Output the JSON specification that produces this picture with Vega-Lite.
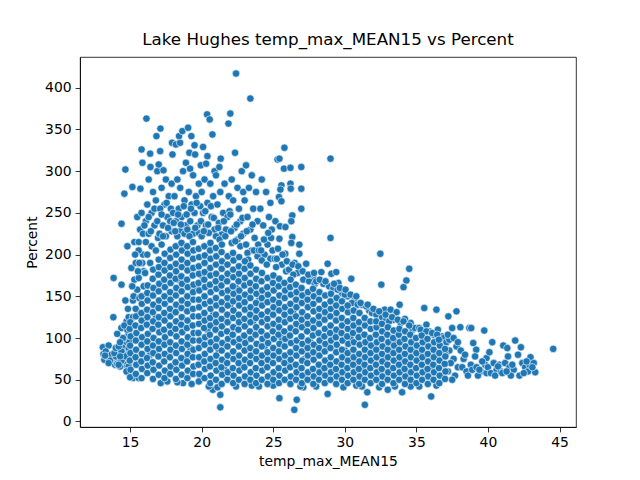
{
  "$schema": "https://vega.github.io/schema/vega-lite/v6.json",
  "width": 496,
  "height": 370,
  "autosize": {"type": "none"},
  "padding": {"left": 80, "top": 57, "right": 64, "bottom": 53},
  "title": {
    "text": "Lake Hughes temp_max_MEAN15 vs Percent",
    "font": "DejaVu Sans",
    "fontSize": 16.7,
    "fontWeight": "normal",
    "color": "black",
    "offset": 8
  },
  "data": {
    "values": [
      {"temp":13.1,"pct":89},{"temp":13.5,"pct":91},{"temp":13.14,"pct":81},{"temp":13.2,"pct":74},{"temp":13.4,"pct":78},{"temp":13.6,"pct":76},{"temp":13.8,"pct":72},{"temp":13.3,"pct":84},{"temp":13.9,"pct":70},{"temp":13.7,"pct":80},{"temp":13.85,"pct":172},{"temp":13.83,"pct":125},{"temp":13.95,"pct":68},{"temp":13.6,"pct":73},{"temp":13.25,"pct":79},
      {"temp":14.4,"pct":164},{"temp":14.67,"pct":145},{"temp":14.39,"pct":112},{"temp":14.67,"pct":100},{"temp":14.81,"pct":210},{"temp":14.4,"pct":237},{"temp":14.6,"pct":273},{"temp":14.67,"pct":302},{"temp":14.1,"pct":75},{"temp":14.3,"pct":70},{"temp":14.5,"pct":68},{"temp":14.7,"pct":72},{"temp":14.2,"pct":82},{"temp":14.9,"pct":66},{"temp":14.5,"pct":78},{"temp":14.8,"pct":85},{"temp":14.6,"pct":92},{"temp":14.3,"pct":66},{"temp":14.9,"pct":75},{"temp":14.1,"pct":69},{"temp":14.75,"pct":120},{"temp":14.9,"pct":105},{"temp":14.5,"pct":88},{"temp":14.2,"pct":76},{"temp":14.95,"pct":95},{"temp":14.85,"pct":135},{"temp":14.6,"pct":80},{"temp":14.4,"pct":73},{"temp":14.0,"pct":78},
      {"temp":13.5,"pct":70},{"temp":13.9,"pct":82},{"temp":14.0,"pct":88},{"temp":14.2,"pct":68},{"temp":14.4,"pct":84},{"temp":14.7,"pct":78},{"temp":14.9,"pct":88},{"temp":14.3,"pct":78},{"temp":14.2,"pct":90},{"temp":14.5,"pct":100},{"temp":14.8,"pct":110},{"temp":14.3,"pct":95},{"temp":14.6,"pct":115},{"temp":14.1,"pct":105},{"temp":14.9,"pct":125},{"temp":14.75,"pct":60},
      {"temp":15.09,"pct":184},{"temp":15.16,"pct":281},{"temp":15.72,"pct":279},{"temp":15.8,"pct":326},{"temp":15.86,"pct":310},{"temp":15.3,"pct":170},{"temp":15.5,"pct":158},{"temp":15.2,"pct":145},{"temp":15.6,"pct":172},{"temp":15.9,"pct":200},{"temp":15.4,"pct":190},{"temp":15.7,"pct":230},{"temp":15.5,"pct":245},{"temp":15.3,"pct":215},{"temp":15.8,"pct":250},{"temp":15.95,"pct":180},{"temp":15.6,"pct":205},
      {"temp":15.2,"pct":125},{"temp":15.6,"pct":130},{"temp":15.25,"pct":150},{"temp":15.65,"pct":148},{"temp":15.95,"pct":162},{"temp":15.15,"pct":162},{"temp":15.55,"pct":180},{"temp":15.85,"pct":190},{"temp":15.35,"pct":200},{"temp":15.65,"pct":190},{"temp":15.2,"pct":52},{"temp":15.6,"pct":52},{"temp":15.6,"pct":215},{"temp":15.9,"pct":225},
      {"temp":16.14,"pct":363},{"temp":16.4,"pct":321},{"temp":16.42,"pct":305},{"temp":16.84,"pct":342},{"temp":16.3,"pct":290},{"temp":16.6,"pct":275},{"temp":16.9,"pct":300},{"temp":16.2,"pct":260},{"temp":16.5,"pct":250},{"temp":16.8,"pct":265},{"temp":16.1,"pct":240},{"temp":16.7,"pct":235},{"temp":16.3,"pct":225},{"temp":16.95,"pct":220},{"temp":16.5,"pct":210},{"temp":16.2,"pct":200},{"temp":16.8,"pct":205},{"temp":16.4,"pct":190},{"temp":16.05,"pct":178},
      {"temp":16.0,"pct":235},{"temp":16.3,"pct":245},{"temp":16.7,"pct":255},{"temp":16.1,"pct":215},{"temp":16.45,"pct":228},{"temp":16.9,"pct":240},
      {"temp":17.12,"pct":351},{"temp":17.0,"pct":308},{"temp":17.1,"pct":324},{"temp":17.33,"pct":301},{"temp":17.93,"pct":334},{"temp":17.96,"pct":320},{"temp":17.5,"pct":290},{"temp":17.2,"pct":280},{"temp":17.7,"pct":270},{"temp":17.4,"pct":260},{"temp":17.9,"pct":285},{"temp":17.1,"pct":255},{"temp":17.6,"pct":245},{"temp":17.3,"pct":235},{"temp":17.8,"pct":240},{"temp":17.05,"pct":225},{"temp":17.5,"pct":222},{"temp":17.9,"pct":228},{"temp":17.2,"pct":212},{"temp":17.14,"pct":46},
      {"temp":17.2,"pct":248},{"temp":17.55,"pct":262},{"temp":17.85,"pct":255},{"temp":17.3,"pct":222},{"temp":17.65,"pct":232},
      {"temp":18.2,"pct":332},{"temp":18.49,"pct":334},{"temp":18.42,"pct":342},{"temp":18.65,"pct":348},{"temp":18.7,"pct":300},{"temp":18.3,"pct":290},{"temp":18.9,"pct":310},{"temp":18.5,"pct":280},{"temp":18.1,"pct":270},{"temp":18.8,"pct":265},{"temp":18.4,"pct":255},{"temp":18.6,"pct":245},{"temp":18.2,"pct":240},{"temp":18.9,"pct":235},{"temp":18.0,"pct":250},{"temp":18.5,"pct":228},{"temp":18.3,"pct":222},{"temp":18.8,"pct":225},{"temp":18.7,"pct":46},
      {"temp":18.05,"pct":238},{"temp":18.35,"pct":248},{"temp":18.75,"pct":258},{"temp":18.15,"pct":228},{"temp":18.55,"pct":236},{"temp":18.95,"pct":248},
      {"temp":19.05,"pct":352},{"temp":19.28,"pct":342},{"temp":19.5,"pct":331},{"temp":19.14,"pct":322},{"temp":19.54,"pct":320},{"temp":19.19,"pct":303},{"temp":19.94,"pct":307},{"temp":19.4,"pct":295},{"temp":19.8,"pct":285},{"temp":19.1,"pct":275},{"temp":19.6,"pct":270},{"temp":19.3,"pct":260},{"temp":19.9,"pct":258},{"temp":19.5,"pct":250},{"temp":19.2,"pct":240},{"temp":19.7,"pct":235},{"temp":19.0,"pct":230},{"temp":19.4,"pct":225},{"temp":19.8,"pct":226},{"temp":19.9,"pct":50},
      {"temp":19.25,"pct":255},{"temp":19.65,"pct":262},{"temp":19.15,"pct":222},{"temp":19.55,"pct":232},{"temp":19.95,"pct":240},
      {"temp":20.1,"pct":329},{"temp":20.38,"pct":368},{"temp":20.56,"pct":362},{"temp":20.75,"pct":344},{"temp":20.4,"pct":318},{"temp":20.31,"pct":309},{"temp":20.9,"pct":300},{"temp":20.2,"pct":290},{"temp":20.6,"pct":285},{"temp":20.0,"pct":275},{"temp":20.8,"pct":270},{"temp":20.4,"pct":262},{"temp":20.1,"pct":250},{"temp":20.7,"pct":245},{"temp":20.3,"pct":235},{"temp":20.9,"pct":230},{"temp":20.5,"pct":226},{"temp":20.0,"pct":222},{"temp":20.78,"pct":38},{"temp":20.5,"pct":42},
      {"temp":20.25,"pct":252},{"temp":20.65,"pct":258},{"temp":20.45,"pct":236},{"temp":20.85,"pct":244},{"temp":20.15,"pct":228},
      {"temp":21.87,"pct":357},{"temp":21.33,"pct":315},{"temp":21.24,"pct":305},{"temp":21.0,"pct":295},{"temp":21.6,"pct":285},{"temp":21.3,"pct":275},{"temp":21.9,"pct":270},{"temp":21.1,"pct":260},{"temp":21.5,"pct":250},{"temp":21.8,"pct":245},{"temp":21.2,"pct":238},{"temp":21.7,"pct":230},{"temp":21.4,"pct":224},{"temp":21.0,"pct":222},{"temp":21.3,"pct":32},{"temp":21.3,"pct":17},{"temp":21.1,"pct":41},
      {"temp":21.15,"pct":232},{"temp":21.55,"pct":240},{"temp":21.95,"pct":252},{"temp":21.25,"pct":218},{"temp":21.65,"pct":222},
      {"temp":22.0,"pct":369},{"temp":22.4,"pct":417},{"temp":22.33,"pct":322},{"temp":22.8,"pct":300},{"temp":22.1,"pct":290},{"temp":22.5,"pct":280},{"temp":22.9,"pct":275},{"temp":22.2,"pct":265},{"temp":22.6,"pct":255},{"temp":22.0,"pct":248},{"temp":22.7,"pct":240},{"temp":22.3,"pct":232},{"temp":22.9,"pct":225},{"temp":22.5,"pct":218},{"temp":22.1,"pct":214},{"temp":22.7,"pct":210},
      {"temp":22.05,"pct":228},{"temp":22.45,"pct":236},{"temp":22.85,"pct":244},{"temp":22.35,"pct":216},{"temp":22.75,"pct":222},
      {"temp":23.4,"pct":387},{"temp":23.1,"pct":307},{"temp":23.5,"pct":295},{"temp":23.3,"pct":280},{"temp":23.8,"pct":275},{"temp":23.0,"pct":265},{"temp":23.6,"pct":255},{"temp":23.2,"pct":245},{"temp":23.9,"pct":240},{"temp":23.4,"pct":230},{"temp":23.7,"pct":220},{"temp":23.1,"pct":212},{"temp":23.5,"pct":205},{"temp":23.9,"pct":198},{"temp":23.2,"pct":202},
      {"temp":23.15,"pct":228},{"temp":23.55,"pct":236},{"temp":23.25,"pct":194},{"temp":23.65,"pct":205},{"temp":23.95,"pct":212},
      {"temp":24.85,"pct":220},{"temp":24.8,"pct":262},{"temp":24.2,"pct":290},{"temp":24.5,"pct":275},{"temp":24.1,"pct":255},{"temp":24.7,"pct":245},{"temp":24.3,"pct":235},{"temp":24.9,"pct":230},{"temp":24.6,"pct":212},{"temp":24.0,"pct":205},{"temp":24.4,"pct":200},{"temp":24.8,"pct":195},{"temp":24.2,"pct":193},
      {"temp":24.35,"pct":218},{"temp":24.65,"pct":226},{"temp":24.15,"pct":205},{"temp":24.55,"pct":188},{"temp":24.95,"pct":205},
      {"temp":25.3,"pct":314},{"temp":25.78,"pct":328},{"temp":25.43,"pct":315},{"temp":25.75,"pct":303},{"temp":25.57,"pct":283},{"temp":25.5,"pct":278},{"temp":25.4,"pct":269},{"temp":25.57,"pct":264},{"temp":25.15,"pct":240},{"temp":25.47,"pct":234},{"temp":25.85,"pct":233},{"temp":25.43,"pct":219},{"temp":25.33,"pct":207},{"temp":25.84,"pct":201},{"temp":25.1,"pct":195},{"temp":25.6,"pct":188},{"temp":25.2,"pct":185},{"temp":25.9,"pct":180},{"temp":25.43,"pct":28},
      {"temp":25.25,"pct":195},{"temp":25.65,"pct":200},{"temp":25.95,"pct":192},
      {"temp":26.2,"pct":304},{"temp":26.96,"pct":305},{"temp":26.2,"pct":285},{"temp":26.22,"pct":279},{"temp":26.96,"pct":279},{"temp":26.96,"pct":255},{"temp":26.33,"pct":247},{"temp":26.26,"pct":240},{"temp":26.33,"pct":221},{"temp":26.26,"pct":214},{"temp":26.82,"pct":212},{"temp":26.82,"pct":201},{"temp":26.5,"pct":190},{"temp":26.1,"pct":182},{"temp":26.7,"pct":178},{"temp":26.4,"pct":176},{"temp":26.47,"pct":14},{"temp":26.64,"pct":26},
      {"temp":26.35,"pct":188},{"temp":26.75,"pct":186},
      {"temp":27.3,"pct":189},{"temp":27.8,"pct":172},{"temp":27.1,"pct":170},{"temp":27.5,"pct":168},{"temp":27.9,"pct":165},{"temp":27.6,"pct":176},
      {"temp":27.05,"pct":180},{"temp":27.45,"pct":176},{"temp":27.85,"pct":178},
      {"temp":28.8,"pct":189},{"temp":28.36,"pct":179},{"temp":28.0,"pct":168},{"temp":28.5,"pct":165},{"temp":28.9,"pct":162},{"temp":28.8,"pct":33},
      {"temp":28.25,"pct":170},{"temp":28.65,"pct":168},
      {"temp":29.0,"pct":315},{"temp":29.0,"pct":220},{"temp":29.06,"pct":177},{"temp":29.4,"pct":179},{"temp":29.55,"pct":166},{"temp":29.2,"pct":160},{"temp":29.8,"pct":154},{"temp":29.5,"pct":158},
      {"temp":29.25,"pct":165},{"temp":29.65,"pct":160},
      {"temp":30.45,"pct":171},{"temp":30.2,"pct":150},{"temp":30.7,"pct":146},{"temp":30.0,"pct":152},{"temp":30.5,"pct":142},{"temp":30.9,"pct":140},
      {"temp":30.05,"pct":158},{"temp":30.4,"pct":152},{"temp":30.8,"pct":150},
      {"temp":31.4,"pct":20},{"temp":31.57,"pct":35},{"temp":31.2,"pct":140},{"temp":31.7,"pct":133},{"temp":31.5,"pct":138},{"temp":31.9,"pct":130},
      {"temp":31.1,"pct":142},{"temp":31.6,"pct":140},
      {"temp":32.48,"pct":201},{"temp":32.55,"pct":164},{"temp":32.78,"pct":134},{"temp":32.2,"pct":128},{"temp":32.6,"pct":125},{"temp":32.9,"pct":122},{"temp":33.0,"pct":38},
      {"temp":32.0,"pct":135},{"temp":32.4,"pct":132},{"temp":32.85,"pct":128},
      {"temp":33.2,"pct":134},{"temp":33.62,"pct":131},{"temp":33.83,"pct":140},{"temp":33.4,"pct":122},{"temp":33.9,"pct":118},{"temp":33.1,"pct":120},
      {"temp":33.3,"pct":125},{"temp":33.7,"pct":122},
      {"temp":34.5,"pct":183},{"temp":34.3,"pct":169},{"temp":34.1,"pct":161},{"temp":34.2,"pct":123},{"temp":34.74,"pct":110},{"temp":34.6,"pct":118},{"temp":34.9,"pct":112},{"temp":34.0,"pct":35},
      {"temp":34.1,"pct":120},{"temp":34.5,"pct":115},
      {"temp":35.55,"pct":136},{"temp":35.7,"pct":116},{"temp":35.2,"pct":112},{"temp":35.9,"pct":108},
      {"temp":35.3,"pct":110},{"temp":35.7,"pct":108},
      {"temp":36.4,"pct":134},{"temp":36.2,"pct":104},{"temp":36.03,"pct":30},{"temp":36.5,"pct":110},{"temp":36.8,"pct":102},
      {"temp":36.1,"pct":106},{"temp":36.45,"pct":104},{"temp":36.9,"pct":100},
      {"temp":37.8,"pct":132},{"temp":37.23,"pct":126},{"temp":37.5,"pct":112},{"temp":37.1,"pct":95},{"temp":37.3,"pct":85},{"temp":37.6,"pct":75},{"temp":37.9,"pct":65},{"temp":37.2,"pct":60},{"temp":37.7,"pct":55},{"temp":37.4,"pct":70},{"temp":37.05,"pct":80},{"temp":37.8,"pct":90},{"temp":37.5,"pct":50},{"temp":37.3,"pct":98},
      {"temp":37.2,"pct":104},{"temp":37.6,"pct":100},{"temp":37.9,"pct":95},
      {"temp":38.07,"pct":113},{"temp":38.7,"pct":112},{"temp":38.83,"pct":112},{"temp":38.97,"pct":94},{"temp":39.18,"pct":86},{"temp":38.2,"pct":65},{"temp":38.5,"pct":60},{"temp":38.8,"pct":68},{"temp":38.3,"pct":75},{"temp":38.6,"pct":55},{"temp":38.9,"pct":62},{"temp":38.1,"pct":85},{"temp":38.4,"pct":80},
      {"temp":39.74,"pct":109},{"temp":39.9,"pct":76},{"temp":39.2,"pct":65},{"temp":39.5,"pct":60},{"temp":39.8,"pct":68},{"temp":39.3,"pct":55},{"temp":39.6,"pct":72},{"temp":39.1,"pct":78},{"temp":39.4,"pct":62},{"temp":39.9,"pct":58},
      {"temp":40.3,"pct":95},{"temp":40.1,"pct":83},{"temp":40.0,"pct":65},{"temp":40.2,"pct":58},{"temp":40.4,"pct":70},{"temp":40.6,"pct":62},{"temp":40.8,"pct":68},{"temp":40.5,"pct":55},{"temp":40.9,"pct":60},{"temp":40.7,"pct":66},
      {"temp":41.9,"pct":97},{"temp":41.07,"pct":91},{"temp":41.35,"pct":88},{"temp":41.2,"pct":70},{"temp":41.5,"pct":65},{"temp":41.8,"pct":62},{"temp":41.0,"pct":58},{"temp":41.6,"pct":55},{"temp":41.3,"pct":60},{"temp":41.7,"pct":68},{"temp":41.4,"pct":78},
      {"temp":42.3,"pct":89},{"temp":42.97,"pct":77},{"temp":42.1,"pct":80},{"temp":42.4,"pct":70},{"temp":42.6,"pct":65},{"temp":42.8,"pct":60},{"temp":42.2,"pct":55},{"temp":42.5,"pct":58},{"temp":42.9,"pct":68},{"temp":42.7,"pct":72},
      {"temp":43.2,"pct":70},{"temp":43.3,"pct":59},{"temp":43.1,"pct":65},{"temp":44.56,"pct":87},
      {"temp":16.4,"pct":80},{"temp":17.2,"pct":95},{"temp":18.0,"pct":130},{"temp":18.8,"pct":75},{"temp":19.6,"pct":160},{"temp":20.4,"pct":110},{"temp":21.2,"pct":85},{"temp":22.0,"pct":140},{"temp":22.8,"pct":65},{"temp":23.6,"pct":120},{"temp":24.4,"pct":90},{"temp":25.2,"pct":135},{"temp":26.0,"pct":70},{"temp":26.8,"pct":115},{"temp":27.6,"pct":95},{"temp":28.4,"pct":60},{"temp":29.2,"pct":105},{"temp":30.0,"pct":85},{"temp":30.8,"pct":70},{"temp":31.6,"pct":95},{"temp":32.4,"pct":60},{"temp":33.2,"pct":85},{"temp":34.0,"pct":70},{"temp":34.8,"pct":90},{"temp":35.6,"pct":60},{"temp":36.4,"pct":80},
      {"temp":16.8,"pct":125},{"temp":17.6,"pct":58},{"temp":18.4,"pct":170},{"temp":19.2,"pct":88},{"temp":20.0,"pct":175},{"temp":20.8,"pct":128},{"temp":21.6,"pct":62},{"temp":22.4,"pct":160},{"temp":23.2,"pct":98},{"temp":24.0,"pct":145},{"temp":24.8,"pct":55},{"temp":25.6,"pct":100},{"temp":26.4,"pct":130},{"temp":27.2,"pct":75},{"temp":28.0,"pct":120},{"temp":28.8,"pct":90},{"temp":29.6,"pct":55},{"temp":30.4,"pct":100},{"temp":31.2,"pct":65},{"temp":32.0,"pct":90},{"temp":32.8,"pct":75},{"temp":33.6,"pct":95},{"temp":34.4,"pct":55},{"temp":35.2,"pct":80},{"temp":36.0,"pct":65},{"temp":36.8,"pct":55},
      {"temp":17.6,"pct":48},{"temp":19.3,"pct":45},{"temp":22.4,"pct":42},{"temp":24.0,"pct":42},{"temp":25.0,"pct":43},{"temp":27.1,"pct":41},{"temp":28.0,"pct":42},{"temp":29.9,"pct":41},{"temp":30.8,"pct":43},{"temp":32.4,"pct":41},{"temp":33.5,"pct":42},{"temp":35.2,"pct":42},{"temp":36.4,"pct":43},{"temp":18.3,"pct":47},{"temp":23.5,"pct":43},{"temp":26.9,"pct":42},{"temp":31.2,"pct":42},{"temp":34.6,"pct":42},
      {"temp":15.0,"pct":53},{"temp":15.03,"pct":62},{"temp":14.98,"pct":73},{"temp":15.02,"pct":82},{"temp":15.0,"pct":91},{"temp":15.04,"pct":102},{"temp":14.97,"pct":111},{"temp":15.01,"pct":119},
      {"temp":15.4,"pct":57},{"temp":15.43,"pct":68},{"temp":15.38,"pct":77},{"temp":15.42,"pct":86},{"temp":15.4,"pct":97},{"temp":15.44,"pct":106},{"temp":15.37,"pct":115},{"temp":15.41,"pct":126},{"temp":15.39,"pct":135},
      {"temp":15.8,"pct":52},{"temp":15.83,"pct":63},{"temp":15.78,"pct":72},{"temp":15.82,"pct":81},{"temp":15.8,"pct":92},{"temp":15.84,"pct":101},{"temp":15.77,"pct":112},{"temp":15.81,"pct":121},{"temp":15.79,"pct":130},{"temp":15.82,"pct":141},{"temp":15.8,"pct":150},
      {"temp":16.2,"pct":58},{"temp":16.23,"pct":67},{"temp":16.18,"pct":76},{"temp":16.22,"pct":87},{"temp":16.2,"pct":96},{"temp":16.24,"pct":105},{"temp":16.17,"pct":116},{"temp":16.21,"pct":125},{"temp":16.19,"pct":134},{"temp":16.22,"pct":145},{"temp":16.2,"pct":154},{"temp":16.23,"pct":163},
      {"temp":16.6,"pct":51},{"temp":16.63,"pct":62},{"temp":16.58,"pct":71},{"temp":16.62,"pct":82},{"temp":16.6,"pct":91},{"temp":16.64,"pct":100},{"temp":16.57,"pct":111},{"temp":16.61,"pct":120},{"temp":16.59,"pct":131},{"temp":16.62,"pct":140},{"temp":16.6,"pct":151},{"temp":16.63,"pct":160},{"temp":16.58,"pct":171},{"temp":16.61,"pct":182},
      {"temp":17.0,"pct":56},{"temp":17.03,"pct":67},{"temp":16.98,"pct":78},{"temp":17.02,"pct":87},{"temp":17.0,"pct":96},{"temp":17.04,"pct":107},{"temp":16.97,"pct":116},{"temp":17.01,"pct":125},{"temp":16.99,"pct":136},{"temp":17.02,"pct":145},{"temp":17.0,"pct":156},{"temp":17.03,"pct":165},{"temp":16.98,"pct":176},{"temp":17.01,"pct":185},{"temp":17.0,"pct":194},
      {"temp":17.4,"pct":52},{"temp":17.43,"pct":61},{"temp":17.38,"pct":72},{"temp":17.42,"pct":81},{"temp":17.4,"pct":92},{"temp":17.44,"pct":101},{"temp":17.37,"pct":110},{"temp":17.41,"pct":121},{"temp":17.39,"pct":130},{"temp":17.42,"pct":141},{"temp":17.4,"pct":150},{"temp":17.43,"pct":161},{"temp":17.38,"pct":170},{"temp":17.41,"pct":181},{"temp":17.4,"pct":190},{"temp":17.42,"pct":201},
      {"temp":17.8,"pct":57},{"temp":17.83,"pct":66},{"temp":17.78,"pct":77},{"temp":17.82,"pct":86},{"temp":17.8,"pct":95},{"temp":17.84,"pct":106},{"temp":17.77,"pct":115},{"temp":17.81,"pct":126},{"temp":17.79,"pct":135},{"temp":17.82,"pct":146},{"temp":17.8,"pct":155},{"temp":17.83,"pct":166},{"temp":17.78,"pct":175},{"temp":17.81,"pct":185},{"temp":17.8,"pct":196},{"temp":17.82,"pct":206},
      {"temp":18.2,"pct":51},{"temp":18.23,"pct":62},{"temp":18.18,"pct":71},{"temp":18.22,"pct":82},{"temp":18.2,"pct":91},{"temp":18.24,"pct":102},{"temp":18.17,"pct":111},{"temp":18.21,"pct":120},{"temp":18.19,"pct":131},{"temp":18.22,"pct":140},{"temp":18.2,"pct":151},{"temp":18.23,"pct":160},{"temp":18.18,"pct":171},{"temp":18.21,"pct":180},{"temp":18.2,"pct":189},{"temp":18.22,"pct":200},{"temp":18.19,"pct":210},
      {"temp":18.6,"pct":56},{"temp":18.63,"pct":67},{"temp":18.58,"pct":76},{"temp":18.62,"pct":87},{"temp":18.6,"pct":96},{"temp":18.64,"pct":107},{"temp":18.57,"pct":116},{"temp":18.61,"pct":125},{"temp":18.59,"pct":136},{"temp":18.62,"pct":145},{"temp":18.6,"pct":156},{"temp":18.63,"pct":165},{"temp":18.58,"pct":174},{"temp":18.61,"pct":185},{"temp":18.6,"pct":194},{"temp":18.62,"pct":205},{"temp":18.59,"pct":214},
      {"temp":19.0,"pct":52},{"temp":19.03,"pct":61},{"temp":18.98,"pct":72},{"temp":19.02,"pct":81},{"temp":19.0,"pct":92},{"temp":19.04,"pct":101},{"temp":18.97,"pct":112},{"temp":19.01,"pct":121},{"temp":18.99,"pct":132},{"temp":19.02,"pct":141},{"temp":19.0,"pct":150},{"temp":19.03,"pct":161},{"temp":18.98,"pct":170},{"temp":19.01,"pct":181},{"temp":19.0,"pct":190},{"temp":19.02,"pct":201},{"temp":18.99,"pct":210},
      {"temp":19.4,"pct":57},{"temp":19.43,"pct":66},{"temp":19.38,"pct":77},{"temp":19.42,"pct":86},{"temp":19.4,"pct":97},{"temp":19.44,"pct":106},{"temp":19.37,"pct":115},{"temp":19.41,"pct":126},{"temp":19.39,"pct":135},{"temp":19.42,"pct":146},{"temp":19.4,"pct":155},{"temp":19.43,"pct":164},{"temp":19.38,"pct":175},{"temp":19.41,"pct":184},{"temp":19.4,"pct":195},{"temp":19.42,"pct":205},{"temp":19.39,"pct":215},
      {"temp":19.8,"pct":48},{"temp":19.83,"pct":57},{"temp":19.78,"pct":68},{"temp":19.82,"pct":77},{"temp":19.8,"pct":88},{"temp":19.84,"pct":97},{"temp":19.77,"pct":106},{"temp":19.81,"pct":117},{"temp":19.79,"pct":126},{"temp":19.82,"pct":137},{"temp":19.8,"pct":146},{"temp":19.83,"pct":157},{"temp":19.78,"pct":166},{"temp":19.81,"pct":177},{"temp":19.8,"pct":186},{"temp":19.82,"pct":197},{"temp":19.79,"pct":207},
      {"temp":20.2,"pct":52},{"temp":20.23,"pct":63},{"temp":20.18,"pct":72},{"temp":20.22,"pct":81},{"temp":20.2,"pct":92},{"temp":20.24,"pct":101},{"temp":20.17,"pct":112},{"temp":20.21,"pct":121},{"temp":20.19,"pct":130},{"temp":20.22,"pct":141},{"temp":20.2,"pct":150},{"temp":20.23,"pct":161},{"temp":20.18,"pct":170},{"temp":20.21,"pct":179},{"temp":20.2,"pct":190},{"temp":20.22,"pct":199},{"temp":20.19,"pct":210},
      {"temp":20.6,"pct":46},{"temp":20.63,"pct":55},{"temp":20.58,"pct":66},{"temp":20.62,"pct":75},{"temp":20.6,"pct":86},{"temp":20.64,"pct":95},{"temp":20.57,"pct":104},{"temp":20.61,"pct":115},{"temp":20.59,"pct":124},{"temp":20.62,"pct":135},{"temp":20.6,"pct":144},{"temp":20.63,"pct":155},{"temp":20.58,"pct":164},{"temp":20.61,"pct":175},{"temp":20.6,"pct":184},{"temp":20.62,"pct":195},{"temp":20.59,"pct":205},{"temp":20.61,"pct":214},
      {"temp":21.0,"pct":50},{"temp":21.03,"pct":61},{"temp":20.98,"pct":70},{"temp":21.02,"pct":79},{"temp":21.0,"pct":90},{"temp":21.04,"pct":99},{"temp":20.97,"pct":110},{"temp":21.01,"pct":119},{"temp":20.99,"pct":128},{"temp":21.02,"pct":139},{"temp":21.0,"pct":148},{"temp":21.03,"pct":159},{"temp":20.98,"pct":168},{"temp":21.01,"pct":177},{"temp":21.0,"pct":188},{"temp":21.02,"pct":198},{"temp":20.99,"pct":208},
      {"temp":21.4,"pct":45},{"temp":21.43,"pct":56},{"temp":21.38,"pct":65},{"temp":21.42,"pct":74},{"temp":21.4,"pct":85},{"temp":21.44,"pct":94},{"temp":21.37,"pct":105},{"temp":21.41,"pct":114},{"temp":21.39,"pct":123},{"temp":21.42,"pct":134},{"temp":21.4,"pct":143},{"temp":21.43,"pct":154},{"temp":21.38,"pct":163},{"temp":21.41,"pct":172},{"temp":21.4,"pct":183},{"temp":21.42,"pct":192},{"temp":21.39,"pct":203},{"temp":21.41,"pct":212},
      {"temp":21.8,"pct":50},{"temp":21.83,"pct":59},{"temp":21.78,"pct":70},{"temp":21.82,"pct":79},{"temp":21.8,"pct":90},{"temp":21.84,"pct":99},{"temp":21.77,"pct":108},{"temp":21.81,"pct":119},{"temp":21.79,"pct":128},{"temp":21.82,"pct":139},{"temp":21.8,"pct":148},{"temp":21.83,"pct":157},{"temp":21.78,"pct":168},{"temp":21.81,"pct":177},{"temp":21.8,"pct":188},{"temp":21.82,"pct":198},
      {"temp":22.2,"pct":46},{"temp":22.23,"pct":55},{"temp":22.18,"pct":64},{"temp":22.22,"pct":75},{"temp":22.2,"pct":84},{"temp":22.24,"pct":95},{"temp":22.17,"pct":104},{"temp":22.21,"pct":113},{"temp":22.19,"pct":124},{"temp":22.22,"pct":133},{"temp":22.2,"pct":144},{"temp":22.23,"pct":153},{"temp":22.18,"pct":162},{"temp":22.21,"pct":173},{"temp":22.2,"pct":182},{"temp":22.22,"pct":193},{"temp":22.19,"pct":202},
      {"temp":22.6,"pct":50},{"temp":22.63,"pct":61},{"temp":22.58,"pct":70},{"temp":22.62,"pct":79},{"temp":22.6,"pct":90},{"temp":22.64,"pct":99},{"temp":22.57,"pct":110},{"temp":22.61,"pct":119},{"temp":22.59,"pct":128},{"temp":22.62,"pct":139},{"temp":22.6,"pct":148},{"temp":22.63,"pct":157},{"temp":22.58,"pct":168},{"temp":22.61,"pct":177},{"temp":22.6,"pct":186},{"temp":22.62,"pct":197},
      {"temp":23.0,"pct":45},{"temp":23.03,"pct":54},{"temp":22.98,"pct":65},{"temp":23.02,"pct":74},{"temp":23.0,"pct":85},{"temp":23.04,"pct":94},{"temp":22.97,"pct":103},{"temp":23.01,"pct":114},{"temp":22.99,"pct":123},{"temp":23.02,"pct":134},{"temp":23.0,"pct":143},{"temp":23.03,"pct":152},{"temp":22.98,"pct":163},{"temp":23.01,"pct":172},{"temp":23.0,"pct":183},{"temp":23.02,"pct":192},
      {"temp":23.4,"pct":50},{"temp":23.43,"pct":59},{"temp":23.38,"pct":70},{"temp":23.42,"pct":79},{"temp":23.4,"pct":88},{"temp":23.44,"pct":99},{"temp":23.37,"pct":108},{"temp":23.41,"pct":119},{"temp":23.39,"pct":128},{"temp":23.42,"pct":137},{"temp":23.4,"pct":148},{"temp":23.43,"pct":157},{"temp":23.38,"pct":166},{"temp":23.41,"pct":177},{"temp":23.4,"pct":187},
      {"temp":23.8,"pct":46},{"temp":23.83,"pct":55},{"temp":23.78,"pct":64},{"temp":23.82,"pct":75},{"temp":23.8,"pct":84},{"temp":23.84,"pct":93},{"temp":23.77,"pct":104},{"temp":23.81,"pct":113},{"temp":23.79,"pct":124},{"temp":23.82,"pct":133},{"temp":23.8,"pct":142},{"temp":23.83,"pct":153},{"temp":23.78,"pct":162},{"temp":23.81,"pct":171},{"temp":23.8,"pct":182},
      {"temp":24.2,"pct":50},{"temp":24.23,"pct":61},{"temp":24.18,"pct":70},{"temp":24.22,"pct":79},{"temp":24.2,"pct":90},{"temp":24.24,"pct":99},{"temp":24.17,"pct":108},{"temp":24.21,"pct":119},{"temp":24.19,"pct":128},{"temp":24.22,"pct":139},{"temp":24.2,"pct":148},{"temp":24.23,"pct":157},{"temp":24.18,"pct":168},{"temp":24.21,"pct":178},
      {"temp":24.6,"pct":45},{"temp":24.63,"pct":54},{"temp":24.58,"pct":65},{"temp":24.62,"pct":74},{"temp":24.6,"pct":83},{"temp":24.64,"pct":94},{"temp":24.57,"pct":103},{"temp":24.61,"pct":114},{"temp":24.59,"pct":123},{"temp":24.62,"pct":132},{"temp":24.6,"pct":143},{"temp":24.63,"pct":152},{"temp":24.58,"pct":161},{"temp":24.61,"pct":172},
      {"temp":25.0,"pct":50},{"temp":25.03,"pct":59},{"temp":24.98,"pct":70},{"temp":25.02,"pct":79},{"temp":25.0,"pct":88},{"temp":25.04,"pct":99},{"temp":24.97,"pct":108},{"temp":25.01,"pct":117},{"temp":24.99,"pct":128},{"temp":25.02,"pct":137},{"temp":25.0,"pct":146},{"temp":25.03,"pct":157},{"temp":24.98,"pct":166},{"temp":25.01,"pct":175},
      {"temp":25.4,"pct":46},{"temp":25.43,"pct":55},{"temp":25.38,"pct":64},{"temp":25.42,"pct":75},{"temp":25.4,"pct":84},{"temp":25.44,"pct":93},{"temp":25.37,"pct":104},{"temp":25.41,"pct":113},{"temp":25.39,"pct":122},{"temp":25.42,"pct":133},{"temp":25.4,"pct":142},{"temp":25.43,"pct":151},{"temp":25.38,"pct":162},{"temp":25.41,"pct":171},
      {"temp":25.8,"pct":50},{"temp":25.83,"pct":61},{"temp":25.78,"pct":70},{"temp":25.82,"pct":79},{"temp":25.8,"pct":90},{"temp":25.84,"pct":99},{"temp":25.77,"pct":108},{"temp":25.81,"pct":119},{"temp":25.79,"pct":128},{"temp":25.82,"pct":137},{"temp":25.8,"pct":148},{"temp":25.83,"pct":157},{"temp":25.78,"pct":166},
      {"temp":26.2,"pct":45},{"temp":26.23,"pct":54},{"temp":26.18,"pct":65},{"temp":26.22,"pct":74},{"temp":26.2,"pct":83},{"temp":26.24,"pct":94},{"temp":26.17,"pct":103},{"temp":26.21,"pct":112},{"temp":26.19,"pct":123},{"temp":26.22,"pct":132},{"temp":26.2,"pct":141},{"temp":26.23,"pct":152},{"temp":26.18,"pct":161},{"temp":26.21,"pct":170},
      {"temp":26.6,"pct":50},{"temp":26.63,"pct":59},{"temp":26.58,"pct":68},{"temp":26.62,"pct":79},{"temp":26.6,"pct":88},{"temp":26.64,"pct":97},{"temp":26.57,"pct":108},{"temp":26.61,"pct":117},{"temp":26.59,"pct":126},{"temp":26.62,"pct":137},{"temp":26.6,"pct":146},{"temp":26.63,"pct":155},{"temp":26.58,"pct":164},
      {"temp":27.0,"pct":46},{"temp":27.03,"pct":55},{"temp":26.98,"pct":64},{"temp":27.02,"pct":73},{"temp":27.0,"pct":84},{"temp":27.04,"pct":93},{"temp":26.97,"pct":102},{"temp":27.01,"pct":113},{"temp":26.99,"pct":122},{"temp":27.02,"pct":131},{"temp":27.0,"pct":142},{"temp":27.03,"pct":151},{"temp":26.98,"pct":160},
      {"temp":27.4,"pct":50},{"temp":27.43,"pct":59},{"temp":27.38,"pct":70},{"temp":27.42,"pct":79},{"temp":27.4,"pct":88},{"temp":27.44,"pct":97},{"temp":27.37,"pct":108},{"temp":27.41,"pct":117},{"temp":27.39,"pct":126},{"temp":27.42,"pct":137},{"temp":27.4,"pct":146},{"temp":27.43,"pct":155},
      {"temp":27.8,"pct":45},{"temp":27.83,"pct":54},{"temp":27.78,"pct":63},{"temp":27.82,"pct":74},{"temp":27.8,"pct":83},{"temp":27.84,"pct":92},{"temp":27.77,"pct":103},{"temp":27.81,"pct":112},{"temp":27.79,"pct":121},{"temp":27.82,"pct":132},{"temp":27.8,"pct":141},{"temp":27.83,"pct":150},{"temp":27.78,"pct":159},
      {"temp":28.2,"pct":50},{"temp":28.23,"pct":59},{"temp":28.18,"pct":68},{"temp":28.22,"pct":79},{"temp":28.2,"pct":88},{"temp":28.24,"pct":97},{"temp":28.17,"pct":106},{"temp":28.21,"pct":117},{"temp":28.19,"pct":126},{"temp":28.22,"pct":135},{"temp":28.2,"pct":146},{"temp":28.23,"pct":155},
      {"temp":28.6,"pct":46},{"temp":28.63,"pct":55},{"temp":28.58,"pct":64},{"temp":28.62,"pct":73},{"temp":28.6,"pct":84},{"temp":28.64,"pct":93},{"temp":28.57,"pct":102},{"temp":28.61,"pct":111},{"temp":28.59,"pct":122},{"temp":28.62,"pct":131},{"temp":28.6,"pct":140},{"temp":28.63,"pct":151},
      {"temp":29.0,"pct":50},{"temp":29.03,"pct":59},{"temp":28.98,"pct":68},{"temp":29.02,"pct":77},{"temp":29.0,"pct":88},{"temp":29.04,"pct":97},{"temp":28.97,"pct":106},{"temp":29.01,"pct":115},{"temp":28.99,"pct":126},{"temp":29.02,"pct":135},{"temp":29.0,"pct":144},{"temp":29.03,"pct":153},
      {"temp":29.4,"pct":45},{"temp":29.43,"pct":54},{"temp":29.38,"pct":63},{"temp":29.42,"pct":72},{"temp":29.4,"pct":83},{"temp":29.44,"pct":92},{"temp":29.37,"pct":101},{"temp":29.41,"pct":110},{"temp":29.39,"pct":121},{"temp":29.42,"pct":130},{"temp":29.4,"pct":139},{"temp":29.43,"pct":148},
      {"temp":29.8,"pct":50},{"temp":29.83,"pct":59},{"temp":29.78,"pct":68},{"temp":29.82,"pct":77},{"temp":29.8,"pct":86},{"temp":29.84,"pct":97},{"temp":29.77,"pct":106},{"temp":29.81,"pct":115},{"temp":29.79,"pct":124},{"temp":29.82,"pct":135},{"temp":29.8,"pct":144},
      {"temp":30.2,"pct":46},{"temp":30.23,"pct":55},{"temp":30.18,"pct":64},{"temp":30.22,"pct":73},{"temp":30.2,"pct":82},{"temp":30.24,"pct":93},{"temp":30.17,"pct":102},{"temp":30.21,"pct":111},{"temp":30.19,"pct":120},{"temp":30.22,"pct":131},{"temp":30.2,"pct":139},
      {"temp":30.6,"pct":50},{"temp":30.63,"pct":59},{"temp":30.58,"pct":68},{"temp":30.62,"pct":77},{"temp":30.6,"pct":86},{"temp":30.64,"pct":95},{"temp":30.57,"pct":106},{"temp":30.61,"pct":115},{"temp":30.59,"pct":124},{"temp":30.62,"pct":133},
      {"temp":31.0,"pct":45},{"temp":31.03,"pct":54},{"temp":30.98,"pct":63},{"temp":31.02,"pct":72},{"temp":31.0,"pct":81},{"temp":31.04,"pct":92},{"temp":30.97,"pct":101},{"temp":31.01,"pct":110},{"temp":30.99,"pct":119},{"temp":31.02,"pct":130},
      {"temp":31.4,"pct":50},{"temp":31.43,"pct":59},{"temp":31.38,"pct":68},{"temp":31.42,"pct":77},{"temp":31.4,"pct":86},{"temp":31.44,"pct":95},{"temp":31.37,"pct":104},{"temp":31.41,"pct":115},{"temp":31.39,"pct":124},
      {"temp":31.8,"pct":46},{"temp":31.83,"pct":55},{"temp":31.78,"pct":64},{"temp":31.82,"pct":73},{"temp":31.8,"pct":82},{"temp":31.84,"pct":91},{"temp":31.77,"pct":100},{"temp":31.81,"pct":111},{"temp":31.79,"pct":120},
      {"temp":32.2,"pct":50},{"temp":32.23,"pct":59},{"temp":32.18,"pct":68},{"temp":32.22,"pct":77},{"temp":32.2,"pct":86},{"temp":32.24,"pct":95},{"temp":32.17,"pct":104},{"temp":32.21,"pct":113},{"temp":32.19,"pct":120},
      {"temp":32.6,"pct":45},{"temp":32.63,"pct":54},{"temp":32.58,"pct":63},{"temp":32.62,"pct":72},{"temp":32.6,"pct":81},{"temp":32.64,"pct":90},{"temp":32.57,"pct":99},{"temp":32.61,"pct":108},{"temp":32.59,"pct":117},
      {"temp":33.0,"pct":50},{"temp":33.03,"pct":59},{"temp":32.98,"pct":68},{"temp":33.02,"pct":77},{"temp":33.0,"pct":86},{"temp":33.04,"pct":95},{"temp":32.97,"pct":104},{"temp":33.01,"pct":113},
      {"temp":33.4,"pct":46},{"temp":33.43,"pct":55},{"temp":33.38,"pct":64},{"temp":33.42,"pct":73},{"temp":33.4,"pct":82},{"temp":33.44,"pct":91},{"temp":33.37,"pct":100},{"temp":33.41,"pct":109},
      {"temp":33.8,"pct":50},{"temp":33.83,"pct":59},{"temp":33.78,"pct":68},{"temp":33.82,"pct":77},{"temp":33.8,"pct":86},{"temp":33.84,"pct":95},{"temp":33.77,"pct":104},{"temp":33.81,"pct":111},
      {"temp":34.2,"pct":45},{"temp":34.23,"pct":54},{"temp":34.18,"pct":63},{"temp":34.22,"pct":72},{"temp":34.2,"pct":81},{"temp":34.24,"pct":90},{"temp":34.17,"pct":99},{"temp":34.21,"pct":108},
      {"temp":34.6,"pct":50},{"temp":34.63,"pct":59},{"temp":34.58,"pct":68},{"temp":34.62,"pct":77},{"temp":34.6,"pct":86},{"temp":34.64,"pct":95},{"temp":34.57,"pct":104},
      {"temp":35.0,"pct":46},{"temp":35.03,"pct":55},{"temp":34.98,"pct":64},{"temp":35.02,"pct":73},{"temp":35.0,"pct":82},{"temp":35.04,"pct":91},{"temp":34.97,"pct":100},
      {"temp":35.4,"pct":50},{"temp":35.43,"pct":59},{"temp":35.38,"pct":68},{"temp":35.42,"pct":77},{"temp":35.4,"pct":86},{"temp":35.44,"pct":95},{"temp":35.37,"pct":103},
      {"temp":35.8,"pct":45},{"temp":35.83,"pct":54},{"temp":35.78,"pct":63},{"temp":35.82,"pct":72},{"temp":35.8,"pct":81},{"temp":35.84,"pct":90},{"temp":35.77,"pct":99},
      {"temp":36.2,"pct":50},{"temp":36.23,"pct":59},{"temp":36.18,"pct":68},{"temp":36.22,"pct":77},{"temp":36.2,"pct":86},{"temp":36.24,"pct":95},
      {"temp":36.6,"pct":46},{"temp":36.63,"pct":55},{"temp":36.58,"pct":64},{"temp":36.62,"pct":73},{"temp":36.6,"pct":82},{"temp":36.64,"pct":91},{"temp":36.57,"pct":98},
      {"temp":37.0,"pct":51},{"temp":37.03,"pct":60},{"temp":36.98,"pct":69},{"temp":37.02,"pct":78},{"temp":37.0,"pct":87}
    ]
  },
  "mark": {
    "type": "point",
    "filled": true,
    "shape": "circle",
    "size": 55,
    "fill": "#1f77b4",
    "stroke": "white",
    "strokeWidth": 0.6,
    "opacity": 1
  },
  "encoding": {
    "x": {
      "field": "temp",
      "type": "quantitative",
      "title": "temp_max_MEAN15",
      "scale": {"domain": [11.5, 46.15], "nice": false, "zero": false},
      "axis": {"values": [15, 20, 25, 30, 35, 40, 45]}
    },
    "y": {
      "field": "pct",
      "type": "quantitative",
      "title": "Percent",
      "scale": {"domain": [-6.6, 436.8], "nice": false, "zero": false},
      "axis": {"values": [0, 50, 100, 150, 200, 250, 300, 350, 400]}
    }
  },
  "config": {
    "view": {"stroke": "black", "strokeWidth": 0.8},
    "axis": {
      "grid": false,
      "domainColor": "black",
      "domainWidth": 0.8,
      "tickColor": "black",
      "tickWidth": 0.8,
      "tickSize": 4.9,
      "labelFont": "DejaVu Sans",
      "labelFontSize": 13.9,
      "labelColor": "black",
      "labelPadding": 4,
      "titleFont": "DejaVu Sans",
      "titleFontSize": 13.9,
      "titleFontWeight": "normal",
      "titleColor": "black",
      "titlePadding": 5
    }
  }
}
